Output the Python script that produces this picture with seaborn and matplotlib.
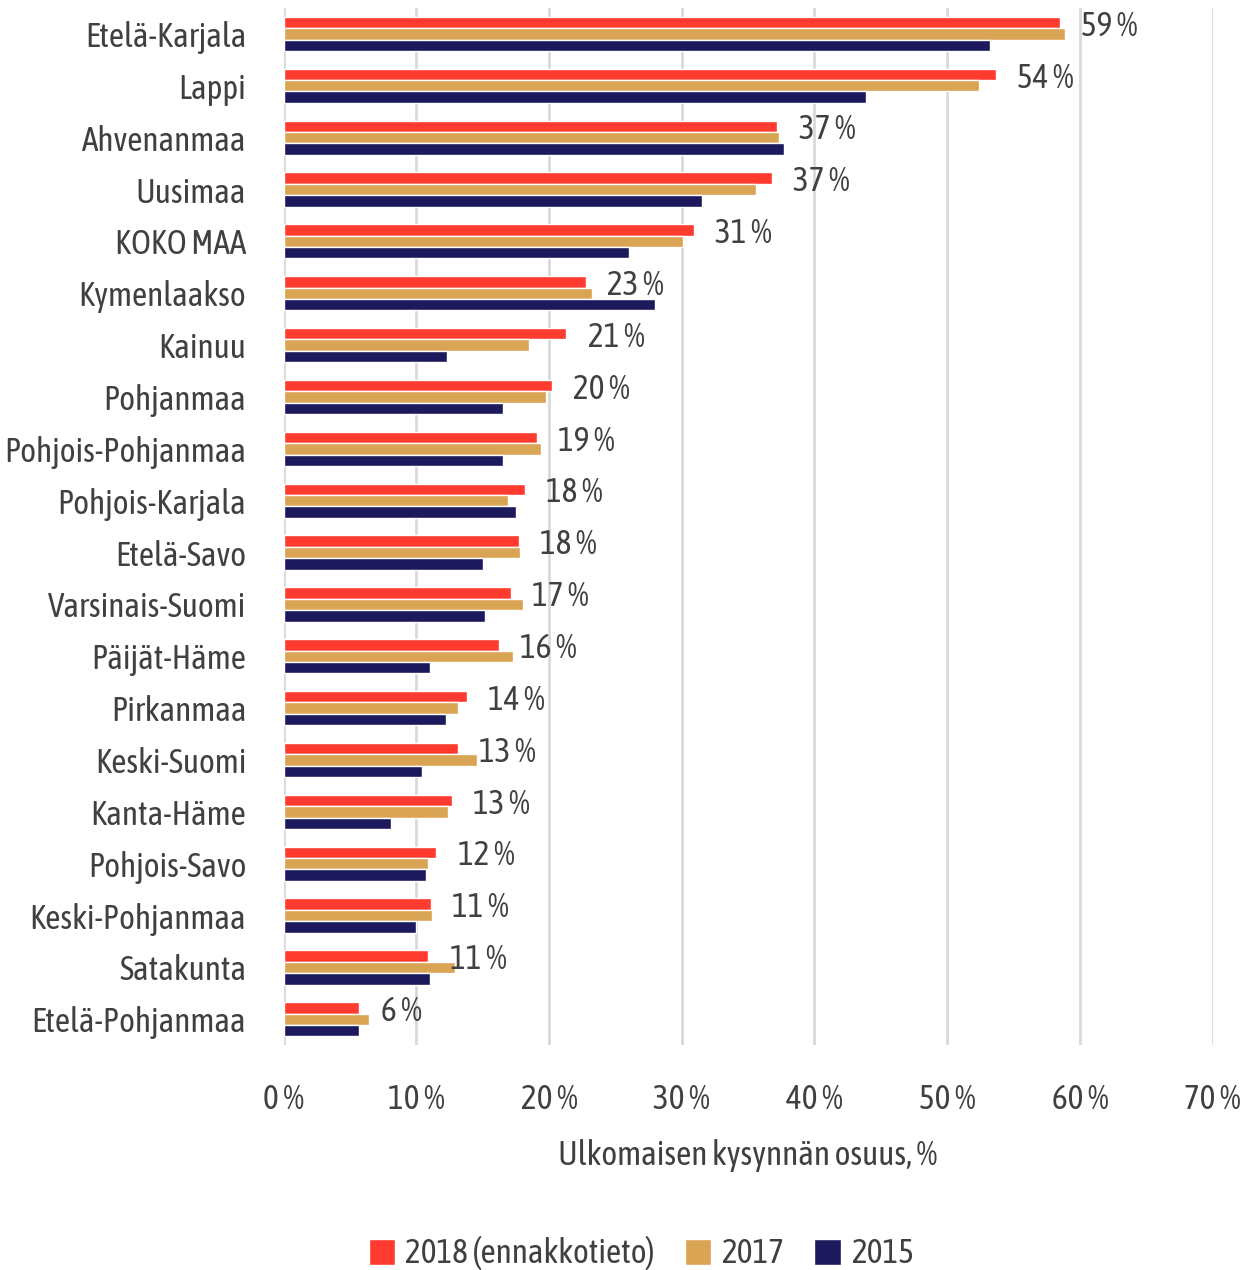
import matplotlib
matplotlib.use('Agg')
import matplotlib.pyplot as plt
import seaborn as sns
import pandas as pd
from matplotlib.patches import Patch

# data (%)
regions = ["Etelä-Karjala", "Lappi", "Ahvenanmaa", "Uusimaa", "KOKO MAA", "Kymenlaakso",
           "Kainuu", "Pohjanmaa", "Pohjois-Pohjanmaa", "Pohjois-Karjala", "Etelä-Savo",
           "Varsinais-Suomi", "Päijät-Häme", "Pirkanmaa", "Keski-Suomi", "Kanta-Häme",
           "Pohjois-Savo", "Keski-Pohjanmaa", "Satakunta", "Etelä-Pohjanmaa"]
v2018 = [58.5, 53.7, 37.2, 36.8, 30.9, 22.8, 21.3, 20.2, 19.1, 18.2, 17.7, 17.1, 16.2, 13.8,
         13.1, 12.7, 11.5, 11.1, 10.9, 5.7]
v2017 = [58.9, 52.4, 37.3, 35.6, 30.1, 23.2, 18.5, 19.8, 19.4, 16.9, 17.8, 18.0, 17.3, 13.1,
         14.6, 12.4, 10.9, 11.2, 12.9, 6.4]
v2015 = [53.2, 43.9, 37.7, 31.5, 26.0, 28.0, 12.3, 16.5, 16.5, 17.5, 15.0, 15.2, 11.0, 12.2,
         10.4, 8.1, 10.7, 10.0, 11.0, 5.7]
labels = ["59 %", "54 %", "37 %", "37 %", "31 %", "23 %", "21 %", "20 %", "19 %", "18 %",
          "18 %", "17 %", "16 %", "14 %", "13 %", "13 %", "12 %", "11 %", "11 %", "6 %"]
series = ["2018 (ennakkotieto)", "2017", "2015"]
colors = ["#FF3A2F", "#D9A453", "#1C1A5C"]
xticks = [0, 10, 20, 30, 40, 50, 60, 70]

df = pd.concat([
    pd.DataFrame({"alue": regions, "vuosi": series[0], "osuus": v2018}),
    pd.DataFrame({"alue": regions, "vuosi": series[1], "osuus": v2017}),
    pd.DataFrame({"alue": regions, "vuosi": series[2], "osuus": v2015}),
])

sns.set_style("white")
# kapea fontti, kuten alkuperäisessä kuvassa
plt.rcParams['font.family'] = ['Asap Condensed', 'Liberation Sans Narrow', 'DejaVu Sans']
txt = "#404040"
fs = 24

fig = plt.figure(figsize=(12.5, 12.7), dpi=100)
ax = fig.add_axes([0.227, 0.177, 0.743, 0.8167])

sns.barplot(data=df, y="alue", x="osuus", hue="vuosi", order=regions, hue_order=series,
            palette=colors, orient="h", width=0.66, saturation=1, ax=ax, legend=False)

ax.set_xlim(0, 70)
ax.set_ylim(len(regions) - 0.5, -0.5)
ax.set_xticks(xticks)
ax.set_xticklabels([f"{t} %" for t in xticks])
ax.xaxis.grid(True, color="#d9d9d9", linewidth=2)
ax.set_axisbelow(True)
for s in ax.spines.values():
    s.set_visible(False)
ax.tick_params(axis="x", length=4, color="#d9d9d9", pad=23, labelsize=fs, labelcolor=txt)
ax.tick_params(axis="y", length=0, pad=27, labelsize=fs, labelcolor=txt)
ax.set_ylabel("")
ax.set_xlabel("Ulkomaisen kysynnän osuus, %", fontsize=fs, color=txt, labelpad=17)

for i, (v, lab) in enumerate(zip(v2018, labels)):
    ax.text(v + 1.6, i - 0.15, lab, va="center", ha="left", fontsize=fs, color=txt)

handles = [Patch(facecolor=c, label=s) for c, s in zip(colors, series)]
fig.legend(handles=handles, loc="center", bbox_to_anchor=(0.513, 0.013), ncol=3,
           frameon=False, fontsize=fs, handlelength=0.8, handleheight=0.8,
           handletextpad=0.3, columnspacing=0.9, labelcolor=txt)

fig.savefig("out.png", dpi=100)
